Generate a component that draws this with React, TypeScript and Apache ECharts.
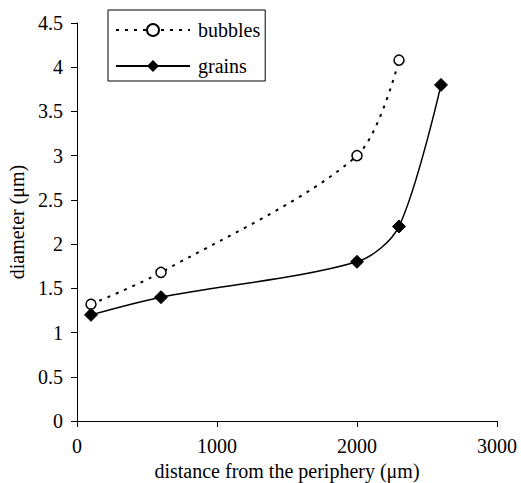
import React, { useEffect, useRef } from "react";
import * as echarts from "echarts";

const bubblesX = [100, 600, 2000, 2300];
const bubblesY = [1.32, 1.68, 3.0, 4.08];
const grainsX = [100, 600, 2000, 2300, 2600];
const grainsY = [1.2, 1.4, 1.8, 2.2, 3.8];
const seriesNames = ["bubbles", "grains"];
const xTitle = "distance from the periphery (μm)";
const yTitle = "diameter (μm)";

const FONT = "Liberation Serif";

export default function App() {
  const ref = useRef<HTMLDivElement>(null);
  useEffect(() => {
    if (!ref.current) return;
    const chart = echarts.init(ref.current, null, { renderer: "svg" });
    chart.setOption({
      animation: false,
      backgroundColor: "#fff",
      textStyle: { fontFamily: FONT, color: "#000" },
      grid: {
        left: 77,
        right: 24,
        top: 23,
        bottom: 62,
        containLabel: false,
        outerBoundsMode: "none",
      },
      legend: {
        orient: "vertical",
        left: 108,
        top: 10,
        padding: [10, 5, 5, 7],
        itemGap: 16,
        itemWidth: 74,
        itemHeight: 15,
        borderColor: "#000",
        borderWidth: 1,
        textStyle: { fontFamily: FONT, fontSize: 20, color: "#000", padding: [0, 0, 0, 3] },
        data: seriesNames,
      },
      xAxis: {
        type: "value",
        min: 0,
        max: 3000,
        interval: 1000,
        name: xTitle,
        nameLocation: "middle",
        nameGap: 40,
        nameTextStyle: { fontFamily: FONT, fontSize: 20, color: "#000" },
        axisLine: { show: true, lineStyle: { color: "#000" } },
        axisTick: { show: true, inside: false, length: 6, lineStyle: { color: "#000" } },
        axisLabel: {
          fontFamily: FONT,
          fontSize: 20,
          color: "#000",
          margin: 15,
          formatter: (v: number) => String(v),
        },
        splitLine: { show: false },
      },
      yAxis: {
        type: "value",
        min: 0,
        max: 4.5,
        interval: 0.5,
        name: yTitle,
        nameLocation: "middle",
        nameGap: 47,
        nameTextStyle: { fontFamily: FONT, fontSize: 20, color: "#000" },
        axisLine: { show: true, lineStyle: { color: "#000" } },
        axisTick: { show: true, inside: false, length: 6, lineStyle: { color: "#000" } },
        axisLabel: {
          fontFamily: FONT,
          fontSize: 20,
          color: "#000",
          margin: 14,
          formatter: (v: number) => String(v),
        },
        splitLine: { show: false },
      },
      series: [
        {
          name: seriesNames[0],
          type: "line",
          smooth: 0.3,
          data: bubblesX.map((x, i) => [x, bubblesY[i]]),
          symbol: "circle",
          symbolSize: 10,
          itemStyle: { color: "#fff", borderColor: "#000", borderWidth: 1.5 },
          lineStyle: { color: "#000", width: 2, type: [3, 6] },
        },
        {
          name: seriesNames[1],
          type: "line",
          smooth: 0.3,
          data: grainsX.map((x, i) => [x, grainsY[i]]),
          symbol: "diamond",
          symbolSize: 13,
          itemStyle: { color: "#000", borderColor: "#000" },
          lineStyle: { color: "#000", width: 1.5 },
        },
      ],
    });
    return () => chart.dispose();
  }, []);
  return (
    <div
      ref={ref}
      style={{ position: "fixed", left: 0, top: 0, width: 521, height: 483 }}
    />
  );
}
